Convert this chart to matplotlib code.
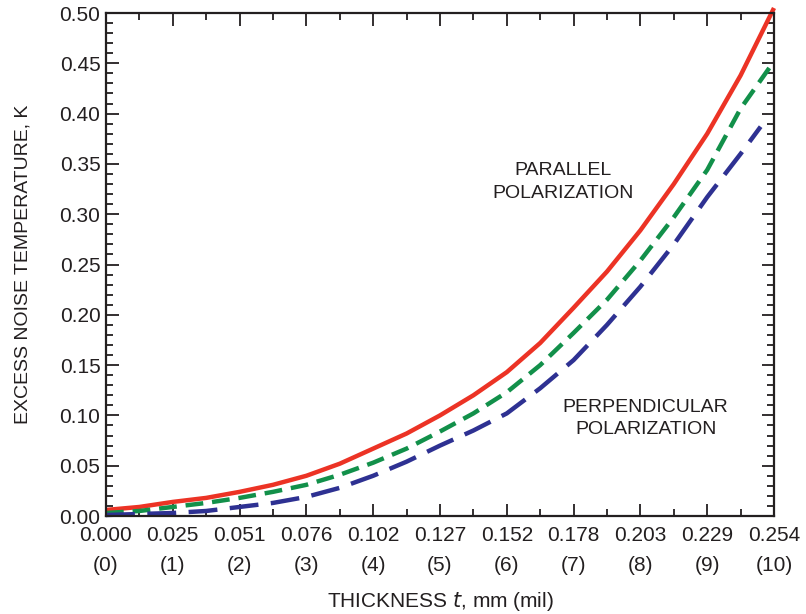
import matplotlib
matplotlib.use("Agg")
import matplotlib.pyplot as plt
from matplotlib.ticker import MultipleLocator

plt.rcParams['font.family'] = ['Liberation Sans', 'DejaVu Sans']

# thickness in mil, read every half mil
mils = [0, 0.5, 1, 1.5, 2, 2.5, 3, 3.5, 4, 4.5, 5, 5.5, 6, 6.5, 7, 7.5, 8, 8.5, 9, 9.5, 10]
parallel = [0.006, 0.009, 0.014, 0.018, 0.024, 0.031, 0.040, 0.052, 0.067, 0.082, 0.100,
            0.120, 0.143, 0.172, 0.207, 0.243, 0.284, 0.330, 0.380, 0.438, 0.505]
middle = [0.003, 0.005, 0.009, 0.013, 0.018, 0.024, 0.031, 0.041, 0.053, 0.067, 0.084,
          0.102, 0.123, 0.150, 0.182, 0.215, 0.254, 0.297, 0.344, 0.405, 0.452]
blue_mils = [0, 0.5, 1, 1.5, 2, 2.5, 3, 3.5, 4, 4.5, 5, 5.5, 6, 6.5, 7, 7.5, 8, 8.5, 9, 9.5, 9.8]
perpendicular = [0.001, 0.002, 0.003, 0.005, 0.009, 0.013, 0.019, 0.028, 0.040, 0.054, 0.070,
                 0.085, 0.102, 0.127, 0.155, 0.190, 0.228, 0.270, 0.317, 0.360, 0.387]

mm_labels = ['0.000', '0.025', '0.051', '0.076', '0.102', '0.127', '0.152',
             '0.178', '0.203', '0.229', '0.254']

txt = '#231F20'
fig = plt.figure(figsize=(8.06, 6.14), dpi=100)
ax = fig.add_axes([0.1315, 0.1596, 0.8288, 0.8192])

ax.plot(mils, parallel, color='#EC3325', lw=3.2, clip_on=False, solid_capstyle='butt')
ax.plot(mils, middle, color='#12904A', lw=3.2, dashes=(4.0, 2.0), clip_on=False)
ax.plot(blue_mils, perpendicular, color='#2E3192', lw=3.2, dashes=(6.5, 2.8), clip_on=False)

ax.set_xlim(0, 10)
ax.set_ylim(0, 0.50)
ax.xaxis.set_major_locator(MultipleLocator(1))
ax.xaxis.set_minor_locator(MultipleLocator(0.5))
ax.yaxis.set_major_locator(MultipleLocator(0.05))
ax.yaxis.set_minor_locator(MultipleLocator(0.01))
ax.set_xticks(range(11))
ax.set_xticklabels([f'{m}\n({i})' for i, m in enumerate(mm_labels)], linespacing=1.75)
ax.set_yticklabels([f'{v:.2f}' for v in ax.get_yticks()])

ax.tick_params(which='both', direction='in', top=True, right=True, labelsize=15,
               colors=txt, width=1.3)
ax.tick_params(which='major', length=9)
ax.tick_params(axis='x', which='major', pad=7)
ax.tick_params(axis='y', which='major', pad=4)
ax.tick_params(which='minor', length=5)
for s in ax.spines.values():
    s.set_linewidth(1.6)
    s.set_color(txt)

ax.set_ylabel('EXCESS NOISE TEMPERATURE, K', fontsize=14, color=txt, labelpad=20)
ax.set_xlabel('THICKNESS $\\it{t}$, mm (mil)', fontsize=15, color=txt, labelpad=11)

ax.text(6.84, 0.332, 'PARALLEL\nPOLARIZATION', ha='center', va='center',
        fontsize=14, color=txt, linespacing=1.45)
ax.text(8.08, 0.097, 'PERPENDICULAR\nPOLARIZATION', ha='center', va='center',
        fontsize=14, color=txt, linespacing=1.45)

fig.savefig('out.png', dpi=100)
